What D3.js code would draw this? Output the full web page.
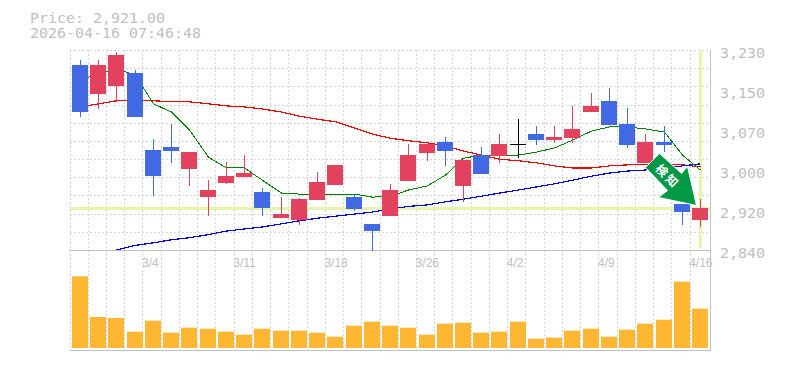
<!DOCTYPE html>
<html lang="en">
<head>
<meta charset="utf-8">
<script src="https://d3js.org/d3.v7.min.js"></script>
<style>
    html, body { margin: 0; padding: 0; background: #fff; }
    svg { display: block; }
    text { font-family: "DejaVu Sans Mono", monospace; fill: #c0c0c0; }
</style>
</head>
<body>
<div id="container"></div>
<script>
    // Trading days
    const dates = ["2/26","2/27","3/2","3/3","3/4","3/5","3/6","3/9","3/10","3/11","3/12","3/13","3/16","3/17","3/18",
        "3/19","3/23","3/24","3/25","3/26","3/27","3/30","3/31","4/1","4/2","4/3","4/6","4/7","4/8","4/9","4/10","4/13","4/14","4/15","4/16"];
    const dateTicks = ["3/4","3/11","3/18","3/26","4/2","4/9","4/16"];

    // Candles
    const opens = [3201,3144,3160,3185,3035,3041,2998,2943,2971,2982,2953,2902,2898,2937,2967,2943,2891,2906,2975,3029,3051,2965,3025,3023,3047,3066,3054,3058,3109,3131,3086,3010,3051,2930,2898];
    const closes = [3109,3201,3220,3099,2984,3033,3031,2957,2984,2990,2922,2910,2939,2973,3006,2920,2877,2957,3025,3047,3033,3015,2988,3047,3047,3054,3060,3076,3121,3084,3045,3051,3045,2914,2922];
    const highs = [3211,3211,3226,3191,3056,3086,3031,2976,3012,3025,2961,2943,2941,2992,3006,2949,2891,2969,3047,3047,3060,3015,3041,3066,3095,3082,3082,3121,3146,3156,3117,3066,3082,2930,2939];
    const lows = [3099,3115,3129,3099,2945,3010,2965,2906,2969,2982,2906,2902,2889,2937,2967,2916,2838,2906,2975,3014,3004,2934,2988,3010,3019,3045,3049,3049,3109,3084,3039,3010,3031,2889,2885];

    // Moving averages
    const maShort = [3171,3185,3193,3181,3125,3109,3074,3021,3000,3000,2976,2951,2949,2949,2949,2949,2943,2945,2957,2965,2986,3019,3025,3025,3025,3031,3039,3054,3072,3080,3080,3076,3070,3025,2996];
    const maMiddle = [3119,3125,3131,3131,3131,3129,3129,3125,3121,3119,3115,3109,3101,3095,3090,3078,3066,3058,3053,3049,3043,3033,3025,3017,3014,3010,3004,3000,3000,3004,3006,3006,3006,3006,3002];
    const maLong = [null,null,2840,2849,2854,2860,2864,2870,2877,2881,2885,2891,2897,2902,2906,2910,2914,2920,2925,2928,2934,2939,2945,2951,2957,2963,2969,2976,2984,2990,2994,2996,3000,3004,3008];

    // Volume
    const volumes = [717,310,300,163,273,153,203,193,163,133,193,173,173,153,113,223,263,223,203,133,243,253,153,163,263,93,103,173,193,113,183,243,283,663,393];

    // Price axis ticks and how they are printed
    const priceTicks = [3230,3152,3074,2996,2918,2840];
    const priceLabels = ["3,230","3,150","3,070","3,000","2,920","2,840"];
    const lastPrice = 2921;

    const colours = {up: "#e2425e", down: "#4169e1", flat: "#000", vol: "#ffb733", grid: "#d6d6d6", axis: "#c0c0c0", cross: "#e6f5ac"};

    const width = 785, height = 370;
    const plot = {left: 71, right: 709.3, top: 50, mid: 250, bottom: 350};
    const wide = 1.107; // the labels are wider than the font

    const svg = d3.select("#container").append("svg")
        .attr("width", width)
        .attr("height", height);

    // Scales
    const x = d3.scaleBand().domain(dates).range([plot.left, plot.right]);
    const y = d3.scaleLinear().domain([2840, 3230]).range([plot.mid, plot.top]);
    const yVol = d3.scaleLinear().domain([0, 1000]).range([348, 248]);

    const barLeft = d => Math.round(x(d) + 1);
    const barMid = d => barLeft(d) + 8.5;

    // Header
    svg.append("text").attr("transform", "translate(30,23) scale(" + wide + ",1)").style("font-size", "13.5px").text("Price: 2,921.00");
    svg.append("text").attr("transform", "translate(30,38) scale(" + wide + ",1)").style("font-size", "13.5px").text("2026-04-16 07:46:48");

    // Grid
    const grid = svg.append("g")
        .attr("stroke", colours.grid)
        .attr("stroke-dasharray", "2,2")
        .attr("shape-rendering", "crispEdges");

    grid.selectAll(".v").data(dates).enter().append("line")
        .attr("x1", d => Math.floor(x(d) - 1) + 0.5)
        .attr("x2", d => Math.floor(x(d) - 1) + 0.5)
        .attr("y1", plot.top)
        .attr("y2", plot.bottom);

    grid.selectAll(".h").data(d3.range(11)).enter().append("line")
        .attr("x1", 70)
        .attr("x2", 710)
        .attr("y1", i => Math.round(plot.top + i * (plot.mid - plot.top) / 11) + 0.5)
        .attr("y2", i => Math.round(plot.top + i * (plot.mid - plot.top) / 11) + 0.5);

    // Crosshair on the latest price
    const last = dates[dates.length - 1];
    svg.append("rect")
        .attr("x", 70).attr("width", 640)
        .attr("y", Math.round(y(lastPrice)) - 1).attr("height", 3)
        .attr("fill", colours.cross);
    svg.append("rect")
        .attr("x", barMid(last) - 1.5).attr("width", 3)
        .attr("y", plot.top).attr("height", 198)
        .attr("fill", colours.cross);

    // Panel border
    const frame = svg.append("g").attr("stroke", colours.axis).attr("shape-rendering", "crispEdges");
    frame.append("line").attr("x1", 70).attr("x2", 710).attr("y1", plot.mid + 0.5).attr("y2", plot.mid + 0.5);
    frame.append("line").attr("x1", 70).attr("x2", 711).attr("y1", plot.bottom + 0.5).attr("y2", plot.bottom + 0.5);
    frame.append("line").attr("x1", 710.5).attr("x2", 710.5).attr("y1", plot.top).attr("y2", plot.bottom);

    // Moving averages
    const line = values => d3.line()
        .defined(d => d != null)
        .x((d, i) => barMid(dates[i]))
        .y(d => y(d))(values);

    [[maMiddle, "#f00", 1.2], [maLong, "#00f", 1.2], [maShort, "#008000", 1]].forEach(s => {
        svg.append("path")
            .attr("d", line(s[0]))
            .attr("fill", "none")
            .attr("stroke", s[1])
            .attr("stroke-width", s[2])
            .attr("shape-rendering", "crispEdges");
    });

    // Candles
    const candleColour = i => closes[i] > opens[i] ? colours.up : closes[i] < opens[i] ? colours.down : colours.flat;
    const candles = svg.append("g").attr("shape-rendering", "crispEdges");

    candles.selectAll(".wick").data(dates).enter().append("rect")
        .attr("x", d => barMid(d) - 0.5)
        .attr("width", 1)
        .attr("y", (d, i) => Math.round(y(highs[i])))
        .attr("height", (d, i) => Math.round(y(lows[i])) - Math.round(y(highs[i])))
        .attr("fill", (d, i) => candleColour(i));

    candles.selectAll(".body").data(dates).enter().append("rect")
        .attr("x", barLeft)
        .attr("width", 16)
        .attr("y", (d, i) => Math.round(y(Math.max(opens[i], closes[i]))))
        .attr("height", (d, i) => Math.max(1, Math.round(y(Math.min(opens[i], closes[i]))) - Math.round(y(Math.max(opens[i], closes[i])))))
        .attr("fill", (d, i) => candleColour(i));

    // Volume bars
    svg.append("g").selectAll("rect").data(dates).enter().append("rect")
        .attr("x", barLeft)
        .attr("width", 16)
        .attr("y", (d, i) => yVol(volumes[i]))
        .attr("height", (d, i) => yVol(0) - yVol(volumes[i]))
        .attr("fill", colours.vol);

    // Axes
    const priceAxis = svg.append("g")
        .attr("transform", "translate(720,0)")
        .call(d3.axisRight(y).tickValues(priceTicks).tickSize(0).tickPadding(0)
            .tickFormat((d, i) => priceLabels[i]));
    priceAxis.select(".domain").remove();
    priceAxis.selectAll("text")
        .attr("x", 0)
        .attr("y", 7)
        .attr("dy", 0)
        .attr("transform", "scale(" + wide + ",1)")
        .style("font-size", "13.5px")
        .style("font-family", "DejaVu Sans Mono, monospace")
        .attr("fill", null);

    const dateAxis = svg.append("g")
        .attr("transform", "translate(0,250)")
        .call(d3.axisBottom(x).tickValues(dateTicks).tickSize(0).tickPadding(0));
    dateAxis.select(".domain").remove();
    dateAxis.selectAll("text")
        .attr("text-anchor", "start")
        .attr("x", -11)
        .attr("y", 8)
        .attr("dy", "0.71em")
        .style("font-size", "12px")
        .style("font-family", "Liberation Sans, sans-serif")
        .attr("fill", null);

    // Arrow on the last candle
    const arrow = svg.append("g")
        .attr("transform", "translate(" + barMid(last) + "," + y(lastPrice) + ")");
    arrow.append("path")
        .attr("d", "M-41,-55 L-55,-41 L-33,-18 L-42,-11 L-4,-3 L-13,-42 L-19,-35 Z")
        .attr("fill", "#009944")
        .attr("stroke", "#fff")
        .attr("stroke-width", 1);
    arrow.append("text")
        .attr("transform", "translate(-33,-32) rotate(45)")
        .attr("text-anchor", "middle")
        .attr("dy", "0.36em")
        .style("font-family", "Noto Sans CJK JP")
        .style("font-weight", "700")
        .style("font-size", "12px")
        .style("letter-spacing", "2px")
        .style("fill", "#fff")
        .text("検知");
</script>
</body>
</html>
